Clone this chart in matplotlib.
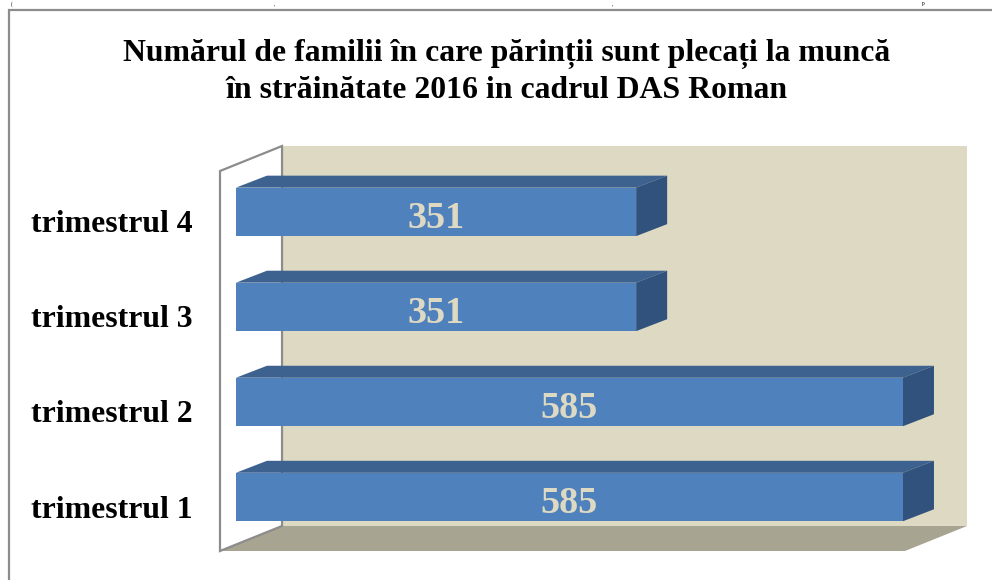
import matplotlib
matplotlib.use('Agg')
import matplotlib.pyplot as plt
from matplotlib.patches import Polygon

# date
categorii = ['trimestrul 1', 'trimestrul 2', 'trimestrul 3', 'trimestrul 4']
valori = [585, 585, 351, 351]
titlu = 'Numărul de familii în care părinții sunt plecați la muncă\nîn străinătate 2016 in cadrul DAS Roman'

W, H = 992, 580
albastru = '#4F81BD'
sus = '#3D628F'
lateral = '#30527C'
perete = '#DED9C3'
podea = '#A7A491'
gri = '#8C8C8C'
bar_h = 0.51
# adancimea 3d in unitati de date
dx = 27.2
dy = 0.126

plt.rcParams['font.family'] = ['Liberation Serif', 'DejaVu Serif']

fig = plt.figure(figsize=(W / 100, H / 100), dpi=100)
fig.patch.set_facecolor('white')

# rama, doar sus si stanga se vad in imagine
fig.add_artist(plt.Line2D([9 / W, 9 / W, 1], [0, 1 - 10 / H, 1 - 10 / H], transform=fig.transFigure,
                          color=gri, linewidth=1.6, solid_joinstyle='miter'))

# resturile de text din pagina de deasupra, mici ca sa incapa in imagine
for px, semn in [(12, '('), (275, ','), (613, ','), (923, 'p')]:
    fig.text(px / W, 1 - 1 / H, semn, ha='center', va='top', fontsize=4, color='black')

ax = fig.add_axes([220 / W, 1 - 551 / H, 685 / W, 380 / H])
ax.set_xlim(-14, 586.8)
ax.set_ylim(-0.568, 3.43)
ax.patch.set_visible(False)
for s in ax.spines.values():
    s.set_visible(False)

x0, x1 = ax.get_xlim()
y0, y1 = ax.get_ylim()
wx = 54.4
wy = 0.263

# peretele din spate, podeaua, peretele din stanga
ax.add_patch(Polygon([(x0 + wx, y0 + wy), (x1 + wx, y0 + wy), (x1 + wx, y1 + wy), (x0 + wx, y1 + wy)],
                     closed=True, facecolor=perete, edgecolor='none', clip_on=False, zorder=1))
ax.add_patch(Polygon([(x0, y0), (x1, y0), (x1 + wx, y0 + wy), (x0 + wx, y0 + wy)],
                     closed=True, facecolor=podea, edgecolor='none', clip_on=False, zorder=2))
ax.add_patch(Polygon([(x0, y0), (x0 + wx, y0 + wy), (x0 + wx, y1 + wy), (x0, y1)],
                     closed=True, facecolor='white', edgecolor=gri, linewidth=1.6, clip_on=False, zorder=3))

poz = list(range(len(valori)))
ax.barh(poz, valori, height=bar_h, color=albastru, zorder=6)

for i, v in zip(poz, valori):
    jos = i - bar_h / 2
    susb = i + bar_h / 2
    ax.add_patch(Polygon([(0, susb), (v, susb), (v + dx, susb + dy), (dx, susb + dy)],
                         closed=True, facecolor=sus, edgecolor='none', clip_on=False, zorder=5))
    ax.add_patch(Polygon([(v, jos), (v + dx, jos + dy), (v + dx, susb + dy), (v, susb)],
                         closed=True, facecolor=lateral, edgecolor='none', clip_on=False, zorder=5))
    ax.text(v / 2, i - 0.07, str(v), ha='center', va='center', color=perete,
            fontsize=27.5, fontweight='bold', zorder=7)

ax.set_xticks([])
# etichetele stau putin sub mijlocul barei
ax.set_yticks([p - 0.1 for p in poz])
ax.set_yticklabels(categorii, fontsize=22.9, fontweight='bold', color='black')
ax.tick_params(axis='y', length=0, pad=19.5)

fig.text(507 / W, 1 - 72 / H, titlu, ha='center', va='center', fontsize=22.9, fontweight='bold',
         color='black', linespacing=1.33)

fig.savefig('out.png', dpi=100)
